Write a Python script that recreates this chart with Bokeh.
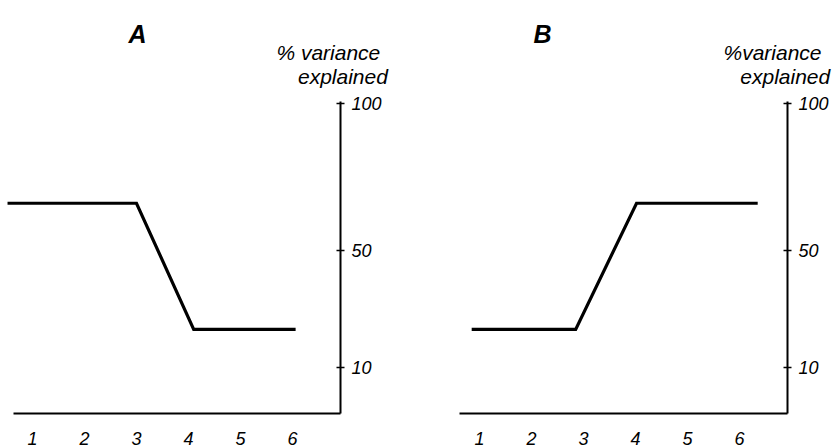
from bokeh.plotting import figure
from bokeh.layouts import row, column
from bokeh.models import FixedTicker, Range1d
from bokeh.core.properties import value
from bokeh.embed import file_html
from bokeh.resources import INLINE

# ---- data ----
x_ticks = [1, 2, 3, 4, 5, 6]
y_ticks = [10, 50, 100]
a_x = [0.52, 3.0, 4.1, 6.06]
a_y = [66, 66, 23, 23]
b_x = [0.85, 2.85, 4.02, 6.35]
b_y = [23, 23, 66, 66]
titles = ["A", "B"]
ylab_line1 = ["% variance", "%variance"]
ylab_line2 = ["explained", "explained"]

FONT = "Liberation Sans"
PX = 52.0                 # pixels per x unit
PY = 264.0 / 90.0         # pixels per y unit
X_RANGE = (0.385, 6.923)
Y_RANGE = (-5.68, 100.68)
HEAD_H = 88


def header(title, l1, l2, x_start, title_x, l1_x, l2_x):
    t = figure(width=420, height=HEAD_H, output_backend="svg", toolbar_location=None,
               x_range=Range1d(x_start, x_start + 420 / PX),
               y_range=Range1d(100 + (103 - HEAD_H) / PY, 100 + 103 / PY),
               x_axis_location=None, y_axis_location=None)
    t.min_border = 0
    t.outline_line_color = None
    t.xgrid.visible = False
    t.ygrid.visible = False
    t.text(x=[title_x], y=[123.86], text=[title], text_align="center",
           text_baseline="alphabetic", text_font=value(FONT),
           text_font_style="bold italic", text_font_size="25px", text_color="black")
    t.text(x=[l1_x, l2_x], y=[117.39, 109.2], text=[l1, l2], text_align="center",
           text_baseline="alphabetic", text_font=value(FONT),
           text_font_style="italic", text_font_size="21px", text_color="black")
    return t


def panel(xs, ys, border_left, border_right, axis_start):
    p = figure(width=420, height=448 - HEAD_H, output_backend="svg", toolbar_location=None,
               x_range=Range1d(*X_RANGE), y_range=Range1d(*Y_RANGE),
               y_axis_location="right")
    p.min_border_left = border_left
    p.min_border_right = border_right
    p.min_border_top = 101 - HEAD_H
    p.min_border_bottom = 35
    p.outline_line_color = None
    p.xgrid.visible = False
    p.ygrid.visible = False

    p.line(xs, ys, line_width=3.2, line_color="black", line_join="miter")

    xa = p.xaxis[0]
    xa.ticker = FixedTicker(ticks=x_ticks)
    xa.bounds = (axis_start, X_RANGE[1])
    xa.axis_line_width = 2
    xa.axis_line_color = "black"
    xa.major_tick_line_color = None
    xa.minor_tick_line_color = None
    xa.major_label_standoff = 12
    xa.major_label_text_font = FONT
    xa.major_label_text_font_style = "italic"
    xa.major_label_text_font_size = "18px"
    xa.major_label_text_color = "black"

    ya = p.yaxis[0]
    ya.ticker = FixedTicker(ticks=y_ticks)
    ya.axis_line_width = 2
    ya.axis_line_color = "black"
    ya.major_tick_in = 4
    ya.major_tick_out = 4
    ya.major_tick_line_width = 1.5
    ya.major_tick_line_color = "black"
    ya.minor_tick_line_color = None
    ya.major_label_standoff = 7
    ya.major_label_text_font = FONT
    ya.major_label_text_font_style = "italic"
    ya.major_label_text_font_size = "18px"
    ya.major_label_text_color = "black"
    return p


t1 = header(titles[0], ylab_line1[0], ylab_line2[0], 0.385, 3.02, 6.69, 6.97)
t2 = header(titles[1], ylab_line1[1], ylab_line2[1], -0.135, 2.21, 6.634, 6.88)
p1 = panel(a_x, a_y, 0, 80, 0.63)
p2 = panel(b_x, b_y, 27, 53, 0.615)

layout = column(row(t1, t2), row(p1, p2))
open("out.html", "w").write(file_html(layout, INLINE))
